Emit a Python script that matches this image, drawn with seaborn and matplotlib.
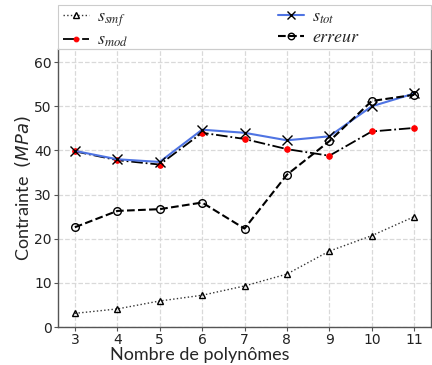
import matplotlib
matplotlib.use("Agg")
import matplotlib.pyplot as plt
from matplotlib.patches import Rectangle
import seaborn as sns
import pandas as pd

# nombre de polynômes
n_poly = [3, 4, 5, 6, 7, 8, 9, 10, 11]
s_smf = [3.1, 4.1, 5.9, 7.2, 9.3, 12.0, 17.2, 20.7, 25.0]
s_mod = [39.8, 37.8, 36.8, 44.0, 42.6, 40.3, 38.8, 44.3, 45.1]
s_tot = [39.9, 38.0, 37.4, 44.7, 44.0, 42.3, 43.2, 50.0, 52.9]
erreur = [22.6, 26.3, 26.7, 28.2, 22.3, 34.5, 42.1, 51.2, 52.6]

df = pd.DataFrame({"n": n_poly, "smf": s_smf, "mod": s_mod, "tot": s_tot, "err": erreur})

sns.set_style("white")
plt.rcParams["font.family"] = ["DejaVu Sans"]

fig = plt.figure(figsize=(4.32, 3.65), dpi=100)
ax = fig.add_axes([0.134, 0.104, 0.864, 0.762])

sns.lineplot(data=df, x="n", y="smf", ax=ax, color="#333333", linestyle=":", linewidth=1.0,
             marker="^", markersize=5, markerfacecolor="none", markeredgecolor="black",
             markeredgewidth=1.0, label="$s_{smf}$")
sns.lineplot(data=df, x="n", y="mod", ax=ax, color="black", linestyle="-.", linewidth=1.3,
             marker="o", markersize=4, markerfacecolor="red", markeredgecolor="red",
             label="$s_{mod}$")
sns.lineplot(data=df, x="n", y="tot", ax=ax, color="#4f74e3", linestyle="-", linewidth=1.5,
             marker="x", markersize=7, markeredgecolor="black", markeredgewidth=1.0,
             label="$s_{tot}$")
sns.lineplot(data=df, x="n", y="err", ax=ax, color="black", linestyle="--", linewidth=1.5,
             marker="o", markersize=5.5, markerfacecolor="none", markeredgecolor="black",
             markeredgewidth=1.0, label="$erreur$")

ax.set_xlim(2.6, 11.4)
ax.set_ylim(0, 63)
ax.set_xticks(n_poly)
ax.set_yticks([0, 10, 20, 30, 40, 50, 60])
ax.grid(True, linestyle="--", color="#d9d9d9", linewidth=0.9)
ax.tick_params(axis="both", labelsize=10, length=3, width=0.8, color="#555555",
               bottom=True, left=True, labelcolor="#222222", pad=1.5)
for side in ["left", "bottom", "right"]:
    ax.spines[side].set_color("#555555")
    ax.spines[side].set_linewidth(1.0)
ax.spines["top"].set_color("#cccccc")

ax.set_xlabel("Nombre de polynômes", family="Lato", fontsize=13)
ax.xaxis.set_label_coords((200 - 58) / 373, -0.072)
ax.set_ylabel("Contrainte  $(MPa)$", family="Lato", fontsize=13,
              math_fontfamily="dejavusans")
ax.yaxis.set_label_coords(-0.068, 0.5)

# légende au-dessus des axes, cadre dessiné séparément
leg = ax.legend(loc="upper left", bbox_to_anchor=(61 / 432, 1 - 6 / 365),
                bbox_transform=fig.transFigure, ncol=2,
                prop={"size": 13, "math_fontfamily": "stix"}, frameon=False,
                borderaxespad=0, borderpad=0.1, handlelength=1.45, handletextpad=0.45,
                labelspacing=0.1, columnspacing=8.3, markerscale=0.85)
fig.patches.append(Rectangle((58 / 432, 1 - 49 / 365), 373 / 432, 44 / 365,
                             transform=fig.transFigure, fill=False,
                             edgecolor="#cccccc", linewidth=0.8))

fig.savefig("out.png", dpi=100)
